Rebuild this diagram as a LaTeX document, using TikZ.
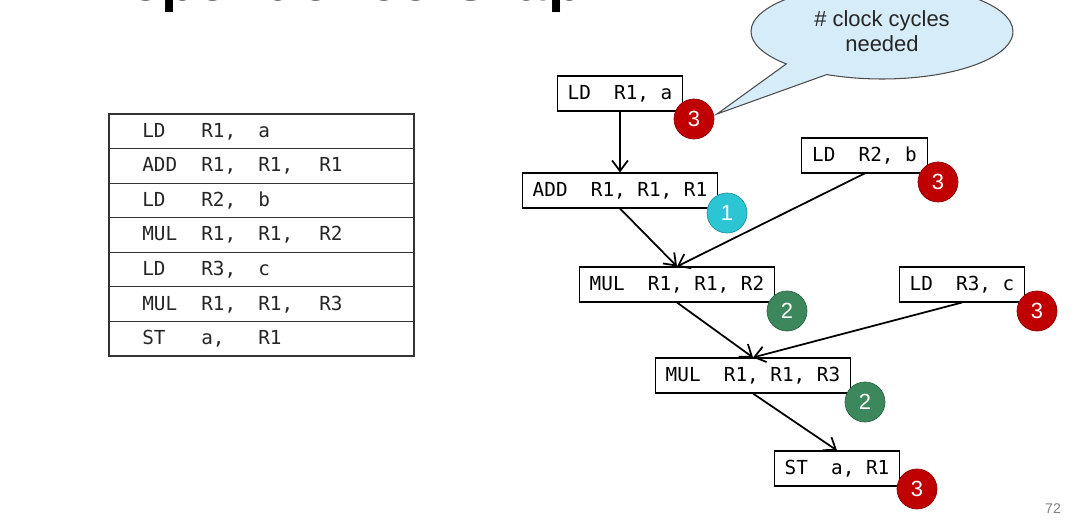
\documentclass[tikz,border=0pt]{standalone}
\usepackage{fontspec}
\setmainfont{Liberation Sans}
\setmonofont{DejaVu Sans Mono}
\usetikzlibrary{arrows.meta,shapes.callouts}

\definecolor{cycred}{RGB}{192,0,0}
\definecolor{cyccyan}{RGB}{43,197,212}
\definecolor{cycgreen}{RGB}{60,135,92}
\definecolor{bubble}{RGB}{214,236,248}

\begin{document}
\begin{tikzpicture}[x=0.02cm,y=-0.02cm,
		instr/.style={draw,line width=0.6pt,font=\ttfamily\fontsize{11}{13}\selectfont,inner xsep=0.21cm,inner ysep=0pt,minimum height=0.7cm},
		cell/.style={anchor=west,inner sep=0pt,text height=8pt,text depth=2pt,font=\ttfamily\fontsize{11}{13}\selectfont,text=black!85},
		cyc/.style={circle,fill=#1,draw=#1!75!black,line width=0.4pt,minimum size=0.8cm,inner sep=0pt,text=white,font=\fontsize{12.5}{14}\selectfont},
		dep/.style={line width=1pt,-{Straight Barb[length=6pt,width=9pt]}}]
			\useasboundingbox (0,0) rectangle (1080,524);
			\clip (0,0) rectangle (1080,524);

			\node[anchor=base west,inner sep=0pt,font=\bfseries\fontsize{33}{40}\selectfont] (title) at (87,1) {Dependence Graph};

			% instruction list
			\draw [line width=0.6pt,black!80] (109,114) rectangle (414,356);
			\foreach \y in {1,...,6} \draw [line width=0.6pt,black!80] (109,{114+34.57*\y}) -- (414,{114+34.57*\y});

			\node[cell] (op1) at (142,132) {LD};
			\node[cell] (ra1) at (201,132) {R1,};
			\node[cell] (rb1) at (258,132) {a};
			\node[cell] (op2) at (142,166.6) {ADD};
			\node[cell] (ra2) at (201,166.6) {R1,};
			\node[cell] (rb2) at (258,166.6) {R1,};
			\node[cell] (rc2) at (319,166.6) {R1};
			\node[cell] (op3) at (142,201.1) {LD};
			\node[cell] (ra3) at (201,201.1) {R2,};
			\node[cell] (rb3) at (258,201.1) {b};
			\node[cell] (op4) at (142,235.7) {MUL};
			\node[cell] (ra4) at (201,235.7) {R1,};
			\node[cell] (rb4) at (258,235.7) {R1,};
			\node[cell] (rc4) at (319,235.7) {R2};
			\node[cell] (op5) at (142,270.3) {LD};
			\node[cell] (ra5) at (201,270.3) {R3,};
			\node[cell] (rb5) at (258,270.3) {c};
			\node[cell] (op6) at (142,304.8) {MUL};
			\node[cell] (ra6) at (201,304.8) {R1,};
			\node[cell] (rb6) at (258,304.8) {R1,};
			\node[cell] (rc6) at (319,304.8) {R3};
			\node[cell] (op7) at (142,339.4) {ST};
			\node[cell] (ra7) at (201,339.4) {a,};
			\node[cell] (rb7) at (258,339.4) {R1};

			% dependence graph
			\node[instr] (ldA) at (620,93.5) {LD~~R1, a};
			\node[instr] (addA) at (620,190.5) {ADD~~R1, R1, R1};
			\node[instr] (ldB) at (864.5,155.5) {LD~~R2, b};
			\node[instr] (mulB) at (677,284.5) {MUL~~R1, R1, R2};
			\node[instr] (ldC) at (962,284.5) {LD~~R3, c};
			\node[instr] (mulC) at (753,375.5) {MUL~~R1, R1, R3};
			\node[instr] (stA) at (837,468.5) {ST~~a, R1};

			\draw[dep] (ldA) -- (addA);
			\draw[dep] (addA.south) -- (mulB.north);
			\draw[dep] (ldB.south) -- (mulB.north);
			\draw[dep] (mulB.south) -- (mulC.north);
			\draw[dep] (ldC.south) -- (mulC.north);
			\draw[dep] (mulC.south) -- (stA.north);

			\coordinate (tip) at (717,114);
			\node[ellipse callout,draw=black!70,fill=bubble,line width=0.6pt,minimum width=5.24cm,minimum height=1.9cm,
				callout absolute pointer={(tip)},callout pointer arc=22,align=center,
				font=\fontsize{12.5}{14.2}\selectfont,text=black!85] (note) at (882,31.5) {\# clock cycles\\needed};

			\node[cyc=cycred] (ldAn) at (694,119) {3};
			\node[cyc=cyccyan] (addAn) at (727,213) {1};
			\node[cyc=cycred] (ldBn) at (938,182) {3};
			\node[cyc=cycgreen] (mulBn) at (787,311) {2};
			\node[cyc=cycred] (ldCn) at (1037,311) {3};
			\node[cyc=cycgreen] (mulCn) at (865,402) {2};
			\node[cyc=cycred] (stAn) at (917,489) {3};

			\node[text=black!50,font=\fontsize{8}{10}\selectfont] (pnum) at (1053,509) {72};
		\end{tikzpicture}
\end{document}
